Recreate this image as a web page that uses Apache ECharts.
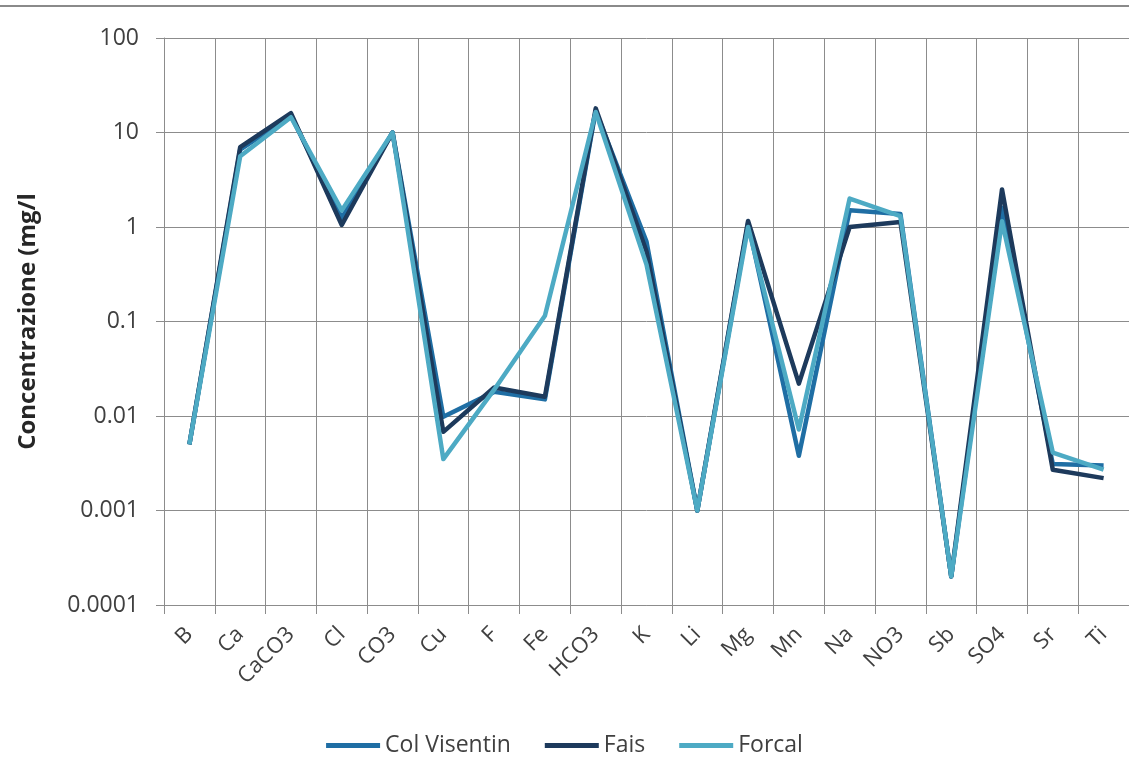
<!DOCTYPE html>
<html>
<head>
<meta charset="utf-8">
<style>
  html, body { margin: 0; padding: 0; background: #ffffff; }
  #chart { width: 1129px; height: 759px; }
</style>
<script src="https://cdn.jsdelivr.net/npm/echarts@6/dist/echarts.min.js"></script>
</head>
<body>
<div id="chart"></div>
<script>
// Parameters measured at each station (mg/l)
const categories = ['B', 'Ca', 'CaCO3', 'Cl', 'CO3', 'Cu', 'F', 'Fe', 'HCO3', 'K',
  'Li', 'Mg', 'Mn', 'Na', 'NO3', 'Sb', 'SO4', 'Sr', 'Ti'];

const colVisentin = [0.005, 6.6, 15, 1.25, 10, 0.0098, 0.018, 0.015, 17, 0.7,
  0.001, 1.1, 0.0038, 1.5, 1.37, 0.0002, 1.6, 0.0031, 0.003];
const fais = [0.005, 7.0, 16, 1.05, 10, 0.0068, 0.02, 0.016, 18, 0.55,
  0.001, 1.16, 0.022, 1.0, 1.13, 0.0002, 2.5, 0.0027, 0.0022];
const forcal = [0.005, 5.6, 14.5, 1.5, 10, 0.0035, 0.019, 0.115, 16.5, 0.4,
  0.001, 1.0, 0.0072, 2.0, 1.3, 0.0002, 1.15, 0.0041, 0.0027];

const seriesNames = ['Col Visentin', 'Fais', 'Forcal'];
const seriesColors = ['#1f6ea4', '#1d3a5c', '#4daac4'];

// Tick labels of the logarithmic value axis
const yTickValues = [0.0001, 0.001, 0.01, 0.1, 1, 10, 100];
const yTickLabels = ['0.0001', '0.001', '0.01', '0.1', '1', '10', '100'];

const yAxisTitle = 'Concentrazione (mg/l';

const gridColor = '#8c8c8c';
const textColor = '#404040';
const fontFamily = '"Open Sans", "Noto Sans", sans-serif';

const chart = echarts.init(document.getElementById('chart'), null, { renderer: 'canvas' });

function labelFor(v) {
  for (let i = 0; i < yTickValues.length; i++) {
    if (Math.abs(Math.log10(v) - Math.log10(yTickValues[i])) < 1e-6) return yTickLabels[i];
  }
  return '';
}

const dataSets = [colVisentin, fais, forcal];

chart.setOption({
  animation: false,
  backgroundColor: '#ffffff',
  textStyle: { fontFamily: fontFamily },
  graphic: [{
    type: 'line',
    shape: { x1: 0, y1: 6, x2: 1129, y2: 6 },
    style: { stroke: '#8a8a8a', lineWidth: 2 },
    silent: true
  }],
  grid: { left: 164, right: -1, top: 38, bottom: 154, containLabel: false },
  legend: {
    top: 729,
    left: 'center',
    itemWidth: 54,
    itemHeight: 5,
    itemGap: 34,
    textStyle: { color: textColor, fontSize: 23, fontFamily: fontFamily },
    data: seriesNames.map((n, i) => ({ name: n, icon: 'rect', itemStyle: { color: seriesColors[i] } }))
  },
  xAxis: {
    type: 'category',
    data: categories,
    boundaryGap: true,
    axisLine: { show: true, lineStyle: { color: gridColor, width: 1 } },
    axisTick: { show: true, length: 9, lineStyle: { color: gridColor } },
    splitLine: { show: true, lineStyle: { color: gridColor, width: 1 } },
    axisLabel: {
      rotate: 45,
      interval: 0,
      color: textColor,
      fontSize: 22,
      fontFamily: fontFamily,
      margin: 26
    }
  },
  yAxis: {
    type: 'log',
    logBase: 10,
    min: 0.0001,
    max: 100,
    name: yAxisTitle,
    nameLocation: 'middle',
    nameGap: 124,
    nameTextStyle: { color: '#262626', fontSize: 24, fontWeight: 'bold', fontFamily: fontFamily },
    axisLine: { show: true, lineStyle: { color: gridColor, width: 1 } },
    axisTick: { show: true, length: 8, lineStyle: { color: gridColor } },
    splitLine: { show: true, lineStyle: { color: gridColor, width: 1 } },
    axisLabel: {
      color: textColor,
      fontSize: 23,
      fontFamily: fontFamily,
      margin: 25,
      formatter: labelFor
    }
  },
  series: seriesNames.map((n, i) => ({
    name: n,
    type: 'line',
    data: dataSets[i],
    symbol: 'none',
    smooth: false,
    color: seriesColors[i],
    lineStyle: { color: seriesColors[i], width: 4.5, join: 'round' },
    z: 2 + i
  }))
});
</script>
</body>
</html>
